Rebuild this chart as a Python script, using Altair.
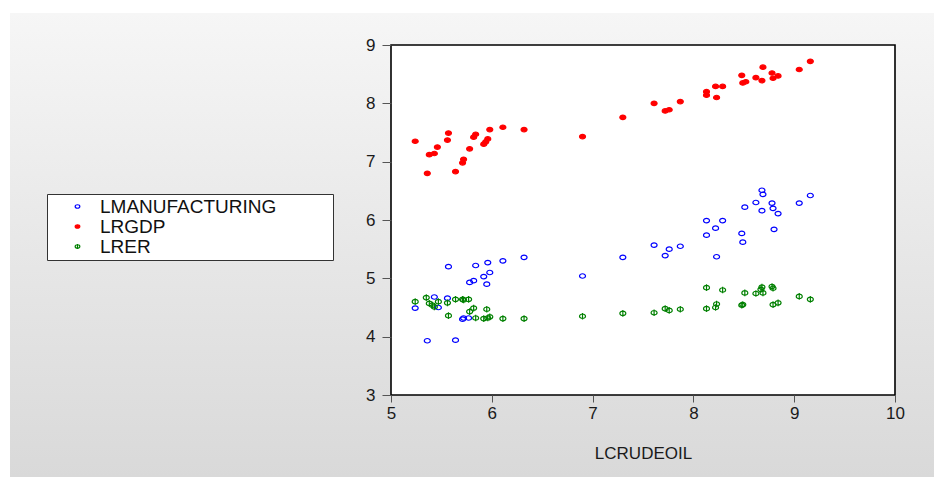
import altair as alt
import pandas as pd

# ---- data ----
series_names = ["LMANUFACTURING", "LRGDP", "LRER"]

manuf_x = [5.24, 5.36, 5.43, 5.47, 5.56, 5.57, 5.64, 5.71, 5.72, 5.77,
           5.78, 5.82, 5.84, 5.92, 5.95, 5.96, 5.98, 6.11, 6.32, 6.90,
           7.30, 7.61, 7.72, 7.76, 7.87, 8.13, 8.13, 8.22, 8.23, 8.29,
           8.48, 8.49, 8.51, 8.62, 8.68, 8.69, 8.68, 8.78, 8.79, 8.80,
           8.84, 9.05, 9.16]
manuf_y = [4.49, 3.93, 4.68, 4.50, 4.66, 5.20, 3.94, 4.30, 4.32, 4.32,
           4.93, 4.96, 5.22, 5.03, 4.90, 5.27, 5.10, 5.30, 5.36, 5.04,
           5.36, 5.57, 5.39, 5.50, 5.55, 5.99, 5.74, 5.86, 5.37, 5.99,
           5.77, 5.62, 6.22, 6.30, 6.51, 6.44, 6.16, 6.29, 6.20, 5.84,
           6.11, 6.29, 6.42]

rgdp_x = [5.24, 5.36, 5.38, 5.43, 5.46, 5.56, 5.57, 5.64, 5.71, 5.72,
          5.78, 5.82, 5.84, 5.92, 5.94, 5.96, 5.98, 6.11, 6.32, 6.90,
          7.30, 7.61, 7.72, 7.76, 7.87, 8.13, 8.13, 8.22, 8.23, 8.29,
          8.48, 8.49, 8.52, 8.62, 8.68, 8.69, 8.78, 8.79, 8.84, 9.05,
          9.16]
rgdp_y = [7.35, 6.80, 7.12, 7.14, 7.25, 7.37, 7.49, 6.83, 6.98, 7.04,
          7.22, 7.42, 7.47, 7.30, 7.34, 7.39, 7.55, 7.59, 7.55, 7.43,
          7.76, 8.00, 7.87, 7.89, 8.03, 8.20, 8.14, 8.29, 8.10, 8.29,
          8.48, 8.35, 8.37, 8.44, 8.39, 8.62, 8.52, 8.43, 8.47, 8.58,
          8.72]

rer_x = [5.24, 5.35, 5.38, 5.41, 5.43, 5.47, 5.56, 5.57, 5.64, 5.71,
         5.72, 5.77, 5.78, 5.82, 5.84, 5.92, 5.95, 5.96, 5.98, 6.11,
         6.32, 6.90, 7.30, 7.61, 7.72, 7.76, 7.87, 8.13, 8.13, 8.22,
         8.23, 8.29, 8.48, 8.49, 8.51, 8.62, 8.68, 8.69, 8.67, 8.78,
         8.79, 8.79, 8.84, 9.05, 9.16]
rer_y = [4.60, 4.67, 4.57, 4.54, 4.51, 4.60, 4.58, 4.36, 4.64, 4.64,
         4.63, 4.64, 4.43, 4.49, 4.32, 4.31, 4.47, 4.32, 4.34, 4.31,
         4.31, 4.35, 4.40, 4.41, 4.48, 4.45, 4.47, 4.84, 4.48, 4.50,
         4.56, 4.80, 4.54, 4.55, 4.75, 4.74, 4.85, 4.75, 4.81, 4.86,
         4.83, 4.55, 4.58, 4.69, 4.64]

x_ticks = [5, 6, 7, 8, 9, 10]
y_ticks = [3, 4, 5, 6, 7, 8, 9]

rows = []
for name, xs, ys in [("LMANUFACTURING", manuf_x, manuf_y),
                     ("LRGDP", rgdp_x, rgdp_y),
                     ("LRER", rer_x, rer_y)]:
    rows += [{"LCRUDEOIL": a, "value": b, "series": name} for a, b in zip(xs, ys)]
df = pd.DataFrame(rows)

# ---- layout ----
W, H = 504, 350
PL, PT = 391, 45
FONT = "Liberation Sans"

ring = "M-1,0A1,0.75 0 1,0 1,0A1,0.75 0 1,0 -1,0Z"
phi = ring + "M0,-1.1L0,1.1"

# trailing no-break spaces (closed by a zero-width char so they are not trimmed)
# widen the legend box to the reference's width
legend_pad = "\u00a0" * 10 + "\u200b"

leg = alt.Legend(
    title=None, orient="none", legendX=47 - PL, legendY=194 - PT,
    padding=3, strokeColor="#333333", fillColor="white",
    labelFont=FONT, labelFontSize=19, labelColor="#111111", labelLimit=600,
    symbolSize=22, symbolStrokeWidth=1.2, symbolOffset=18, labelOffset=13,
    rowPadding=0,
    labelExpr="datum.label + '" + legend_pad + "'",
)

axis_common = dict(
    grid=False, domain=False, zindex=1,
    tickColor="#555555", tickWidth=1,
    labelFont=FONT, labelFontSize=17, labelColor="#1a1a1a",
    labelFlush=False, labelOverlap=False, labelBound=False,
    titleFont=FONT, titleFontSize=17, titleFontWeight="normal", titleColor="#1a1a1a",
)

bg = alt.Chart(alt.Data(values=[{}])).mark_rect(
    fill=alt.LinearGradient(
        gradient="linear",
        stops=[alt.GradientStop(color="#f6f6f6", offset=0),
               alt.GradientStop(color="#d9d9d9", offset=1)],
        x1=0, x2=0, y1=0, y2=1),
).encode(x=alt.value(10 - PL), x2=alt.value(934 - PL),
         y=alt.value(13 - PT), y2=alt.value(477 - PT))

plotbg = alt.Chart(alt.Data(values=[{}])).mark_rect(
    fill="white", stroke="black", strokeWidth=1.6
).encode(x=alt.value(0), x2=alt.value(W), y=alt.value(0), y2=alt.value(H))

pts = alt.Chart(df).mark_point(size=36, strokeWidth=1.2, opacity=1).encode(
    x=alt.X("LCRUDEOIL:Q",
            scale=alt.Scale(domain=[5, 10], nice=False, zero=False),
            axis=alt.Axis(values=x_ticks, title="LCRUDEOIL", tickSize=7,
                          labelPadding=3, titlePadding=24, **axis_common)),
    y=alt.Y("value:Q",
            scale=alt.Scale(domain=[3, 9], nice=False, zero=False),
            axis=alt.Axis(values=y_ticks, title=None, tickSize=9,
                          labelPadding=7, **axis_common)),
    stroke=alt.Stroke("series:N", scale=alt.Scale(
        domain=series_names, range=["#0000ff", "#ff0000", "#008000"]), legend=leg),
    fill=alt.Fill("series:N", scale=alt.Scale(
        domain=series_names, range=["transparent", "#ff0000", "transparent"]), legend=leg),
    shape=alt.Shape("series:N", scale=alt.Scale(
        domain=series_names, range=[ring, ring, phi]), legend=leg),
)

chart = alt.layer(bg, plotbg, pts).properties(
    width=W, height=H,
    autosize=alt.AutoSizeParams(type="none"),
    padding={"left": PL, "top": PT, "right": 934 - PL - W, "bottom": 477 - PT - H},
    background="white",
).configure_view(stroke=None)

chart.save("out.html", embed_options={"renderer": "svg", "actions": False})
